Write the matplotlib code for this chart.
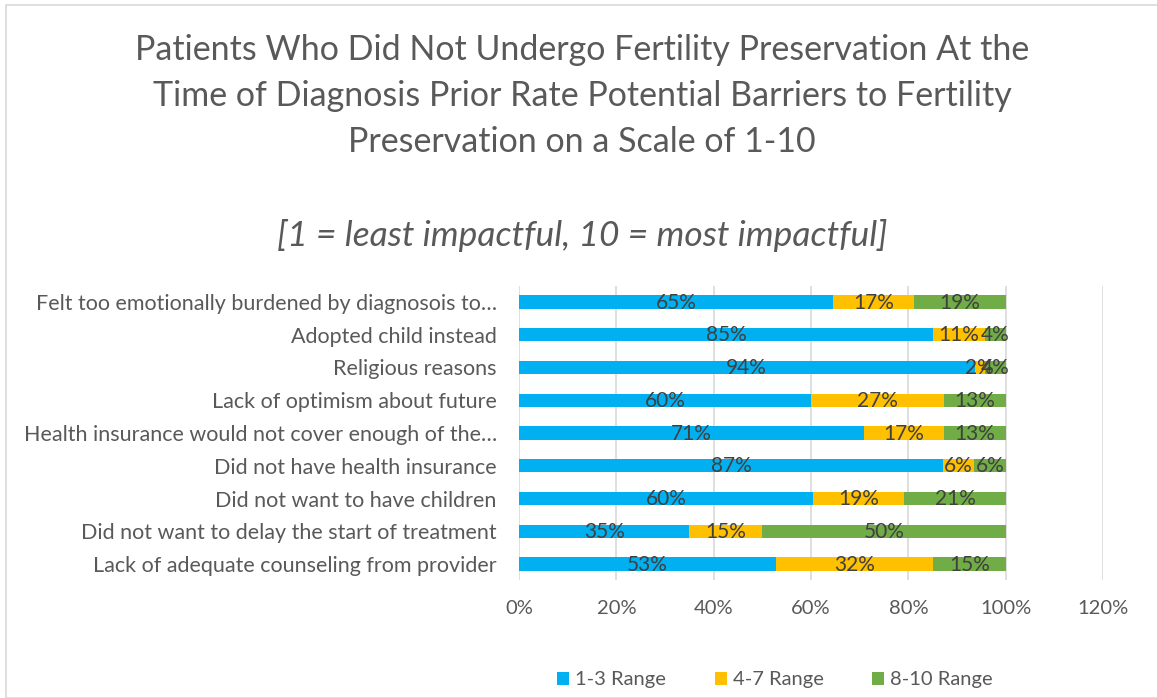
import matplotlib
matplotlib.use("Agg")
import matplotlib.pyplot as plt
from matplotlib.patches import Rectangle, Patch
import numpy as np

plt.rcParams['font.family'] = ['Lato', 'DejaVu Sans']

categories = [
    "Felt too emotionally burdened by diagnosois to\u2026",
    "Adopted child instead",
    "Religious reasons",
    "Lack of optimism about future",
    "Health insurance would not cover enough of the\u2026",
    "Did not have health insurance",
    "Did not want to have children",
    "Did not want to delay the start of treatment",
    "Lack of adequate counseling from provider",
]
low = [64.6, 85.1, 93.6, 60.1, 70.8, 87.1, 60.4, 35.0, 52.9]
mid = [16.6, 10.6, 2.1, 27.3, 16.6, 6.4, 18.8, 15.0, 32.2]
high = [18.8, 4.3, 4.3, 12.6, 12.6, 6.5, 20.8, 50.0, 14.9]
series_names = ["1-3 Range", "4-7 Range", "8-10 Range"]
colors = ["#00B0F0", "#FFC000", "#70AD47"]
xticks = [0, 20, 40, 60, 80, 100, 120]

W, H = 1157, 698
fig = plt.figure(figsize=(W / 100, H / 100), dpi=100)
fig.patches.append(Rectangle((6 / W, 0), 1.2, 1 - 5 / H, transform=fig.transFigure,
                             fill=False, edgecolor="#D9D9D9", linewidth=1.2))

ax = fig.add_axes([519 / W, 1 - 580.4 / H, (1103 - 519) / W, (580.4 - 285.6) / H])

y = np.arange(len(categories))
left = np.zeros(len(categories))
text_col = "#404040"
for vals, name, col in zip([low, mid, high], series_names, colors):
    vals = np.array(vals) / 100.0
    bars = ax.barh(y, vals, left=left, height=0.41, color=col, label=name, zorder=2)
    for b, v, l in zip(bars, vals, left):
        ax.text(l + v / 2, b.get_y() + b.get_height() / 2 + 0.02, f"{round(v * 100):.0f}%",
                ha="center", va="center", fontsize=15, color=text_col, zorder=3)
    left = left + vals

ax.set_xlim(0, 1.2)
ax.set_ylim(len(categories) - 0.5, -0.5)
ax.set_xticks([t / 100 for t in xticks])
ax.set_xticklabels([f"{t}%" for t in xticks], fontsize=14.5, color="#595959")
ax.set_yticks(y)
ax.set_yticklabels(categories, fontsize=15.5, color="#595959")
ax.tick_params(axis="both", length=0)
ax.tick_params(axis="x", pad=14)
ax.tick_params(axis="y", pad=16)
ax.grid(axis="x", color="#D9D9D9", linewidth=1.2, zorder=0)
ax.set_axisbelow(True)
for s in ax.spines.values():
    s.set_visible(False)

title_lines = [
    "Patients Who Did Not Undergo Fertility Preservation At the",
    "Time of Diagnosis Prior Rate Potential Barriers to Fertility",
    "Preservation on a Scale of 1-10",
]
for i, line in enumerate(title_lines):
    fig.text(582 / W, 1 - (50 + 46 * i) / H, line, ha="center", va="center",
             fontsize=24.5, color="#595959")
fig.text(582 / W, 1 - 236 / H, "[1 = least impactful, 10 = most impactful]",
         ha="center", va="center", fontsize=25.5, color="#595959", style="italic")

handles = [Patch(facecolor=c, label=n) for c, n in zip(colors, series_names)]
fig.legend(handles=handles, loc="center", bbox_to_anchor=(775 / W, 1 - 680 / H),
           ncol=3, frameon=False, fontsize=14.5, labelcolor="#595959",
           handlelength=0.6, handleheight=0.6, handletextpad=0.3, columnspacing=2.4)

fig.savefig("out.png", dpi=100)
